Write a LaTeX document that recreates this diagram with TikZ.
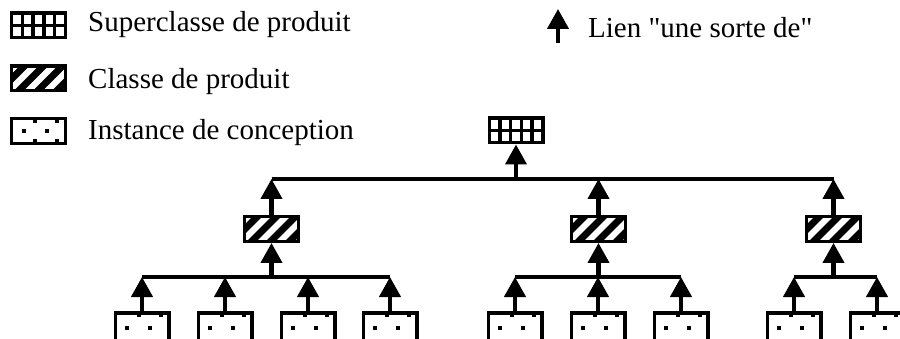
\documentclass[tikz,border=0pt]{standalone}
\usepackage{fontspec}
\setmainfont{Liberation Serif}[Ligatures=TeXOff]
\usetikzlibrary{arrows.meta,calc}
\begin{document}
\begin{tikzpicture}[x=1pt,y=-1pt,
	box/.style={draw,line width=3.4pt,inner sep=0,minimum width=53.6pt,minimum height=24.6pt},
	superbox/.style={box,path picture={
		\foreach \f in {0.2,0.4,0.6,0.8}
			\draw[line width=3.6pt] ($(path picture bounding box.north west)!\f!(path picture bounding box.north east)$) -- ($(path picture bounding box.south west)!\f!(path picture bounding box.south east)$);
		\draw[line width=3.6pt] (path picture bounding box.west) -- (path picture bounding box.east);}},
	classbox/.style={box,path picture={
		\foreach \k in {-12,7,26,45}
			\draw[line width=7pt] ($(path picture bounding box.south west)+(\k,0)+(-6,6)$) -- ++(44,-44);}},
	instbox/.style={box,path picture={
		\foreach \d in {12,35}
			\fill ($(path picture bounding box.west)+(\d,0)$) +(-2,-2) rectangle +(2,2);
		\foreach \d in {23.5,45.5}{
			\fill ($(path picture bounding box.north west)+(\d,0)$) +(-1.8,0) rectangle +(1.8,4);
			\fill ($(path picture bounding box.south west)+(\d,0)$) +(-1.8,0) rectangle +(1.8,-4);}}},
	link/.style={line width=4.2pt,-{Triangle[length=20pt,width=21pt]}},
	bus/.style={line width=4.2pt},
	lbl/.style={font=\fontsize{29}{34}\selectfont,anchor=base west,inner sep=0}]
	\useasboundingbox (0,0) rectangle (900,339);
	\node[superbox] (legsup) at (38.5,25.5) {};
	\node[classbox] (legcls) at (38.5,78.5) {};
	\node[instbox] (leginst) at (38.5,131) {};
	\node[lbl] (tsup) at (88,32) {Superclasse de produit};
	\node[lbl] (tcls) at (88,89) {Classe de produit};
	\node[lbl] (tinst) at (88,139.5) {Instance de conception};
	\coordinate (lienbot) at (558,43);
	\coordinate (lientop) at (558,9);
	\draw[link] (lienbot) -- (lientop);
	\node[lbl] (tlien) at (588,38) {Lien "une sorte de"};
	\node[superbox] (root) at (516,130.5) {};
	\node[classbox] (c1) at (271.5,229) {};
	\node[classbox] (c2) at (598.5,229) {};
	\node[classbox] (c3) at (833.5,229) {};
	\foreach \k/\x in {1/142,2/225,3/308,4/390,5/515,6/598,7/681,8/794,9/877}
		\node[instbox,minimum height=30pt] (i\k) at (\x,328) {};
	\coordinate (top) at (0,179);
	\coordinate (low) at (0,277);
	\draw[bus] (c1 |- top) -- (c3 |- top);
	\draw[bus] (i1 |- low) -- (i4 |- low);
	\draw[bus] (i5 |- low) -- (i7 |- low);
	\draw[bus] (i8 |- low) -- (i9 |- low);
	\draw[link] (root |- top) -- (root);
	\foreach \c in {c1,c2,c3} {
		\draw[link] (\c) -- (\c |- top);
		\draw[link] (\c |- low) -- (\c);}
	\foreach \k in {1,...,9}
		\draw[link] (i\k) -- (i\k |- low);
\end{tikzpicture}
\end{document}
